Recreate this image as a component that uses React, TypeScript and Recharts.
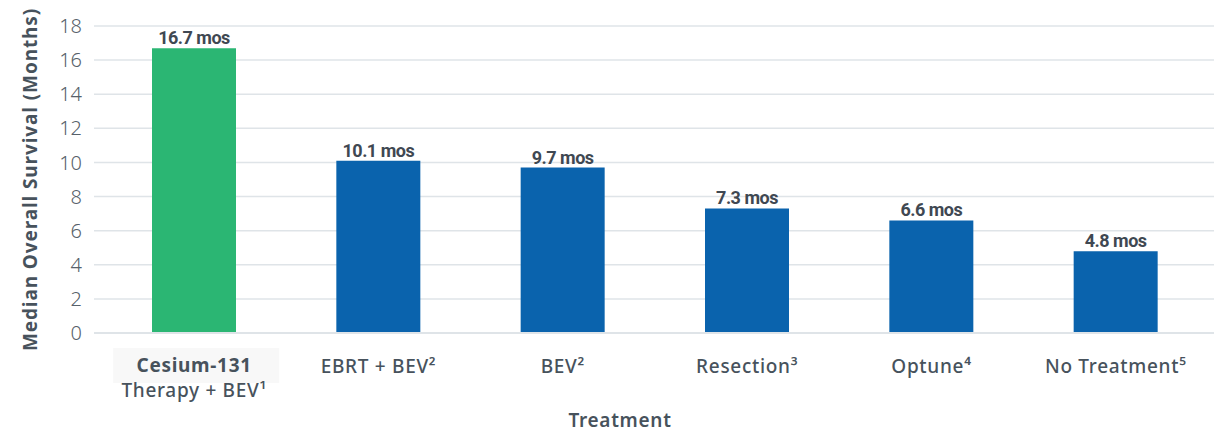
import React from "react";
import { BarChart, Bar, XAxis, YAxis, CartesianGrid, Cell, LabelList, Label } from "recharts";

const categories = ["Cesium-131|Therapy + BEV¹", "EBRT + BEV²", "BEV²", "Resection³", "Optune⁴", "No Treatment⁵"];
const survivalMonths = [16.7, 10.1, 9.7, 7.3, 6.6, 4.8];
const valueLabels = ["16.7 mos", "10.1 mos", "9.7 mos", "7.3 mos", "6.6 mos", "4.8 mos"];
const yTicks = [0, 2, 4, 6, 8, 10, 12, 14, 16, 18];
const barColors = ["#2bb673", "#0a63ad", "#0a63ad", "#0a63ad", "#0a63ad", "#0a63ad"];

const data = categories.map((c, i) => ({ name: c, value: survivalMonths[i], label: valueLabels[i] }));

const FONT = "'Noto Sans', sans-serif";
const TEXT = "#47525c";

const XTick = (props: any) => {
  const { x, y, payload } = props;
  const parts = String(payload.value).split("|");
  if (parts.length > 1) {
    return (
      <g>
        <rect x={x - 81} y={y + 7} width={166} height={35} fill="#f8f8f8" />
        <text x={x} y={y + 31} textAnchor="middle" fontFamily={FONT} fontSize={19} fontWeight={700} fill={TEXT} letterSpacing={0.7}>
          {parts[0]}
        </text>
        <text x={x} y={y + 56} textAnchor="middle" fontFamily={FONT} fontSize={19} fontWeight={500} fill={TEXT} letterSpacing={0.7}>
          {parts[1]}
        </text>
      </g>
    );
  }
  return (
    <text x={x} y={y + 32} textAnchor="middle" fontFamily={FONT} fontSize={19} fontWeight={500} fill={TEXT} letterSpacing={0.7}>
      {parts[0]}
    </text>
  );
};

export default function App() {
  return (
    <div style={{ width: 1214, height: 433, background: "#fff" }}>
      <style>{`body{margin:0}`}</style>
      <BarChart
        width={1214}
        height={433}
        data={data}
        margin={{ top: 26, right: 0, bottom: 0, left: 0 }}
        barCategoryGap={0}
      >
        <CartesianGrid vertical={false} stroke="#dfe4e8" strokeWidth={1.5} />
        <XAxis
          dataKey="name"
          axisLine={{ stroke: "#dfe4e8", strokeWidth: 2 }}
          tickLine={false}
          tick={<XTick />}
          interval={0}
          padding={{ left: 8, right: 6 }}
          height={100}
        >
          <Label
            value="Treatment"
            position="insideBottom"
            offset={0}
            dx={-34}
            dy={-6}
            style={{ fontFamily: FONT, fontSize: 19, fontWeight: 600, fill: TEXT, letterSpacing: 0.7 }}
          />
        </XAxis>
        <YAxis
          domain={[0, 18]}
          ticks={yTicks}
          interval={0}
          axisLine={false}
          tickLine={false}
          width={94}
          tick={{ fontFamily: FONT, fontSize: 20, fontWeight: 300, fill: "#57616a", dx: -4 }}
        >
          <Label
            value="Median Overall Survival (Months)"
            angle={-90}
            position="insideLeft"
            offset={0}
            dx={30}
            dy={0}
            style={{ fontFamily: FONT, fontSize: 19, fontWeight: 700, fill: TEXT, textAnchor: "middle", letterSpacing: 0.9 }}
          />
        </YAxis>
        <Bar dataKey="value" barSize={84} isAnimationActive={false}>
          {data.map((d, i) => (
            <Cell key={i} fill={barColors[i]} />
          ))}
          <LabelList
            dataKey="label"
            position="top"
            offset={4}
            style={{ fontFamily: "Roboto, sans-serif", fontSize: 18, fontWeight: 700, fill: "#3f4852", letterSpacing: -0.5 }}
          />
        </Bar>
      </BarChart>
    </div>
  );
}
